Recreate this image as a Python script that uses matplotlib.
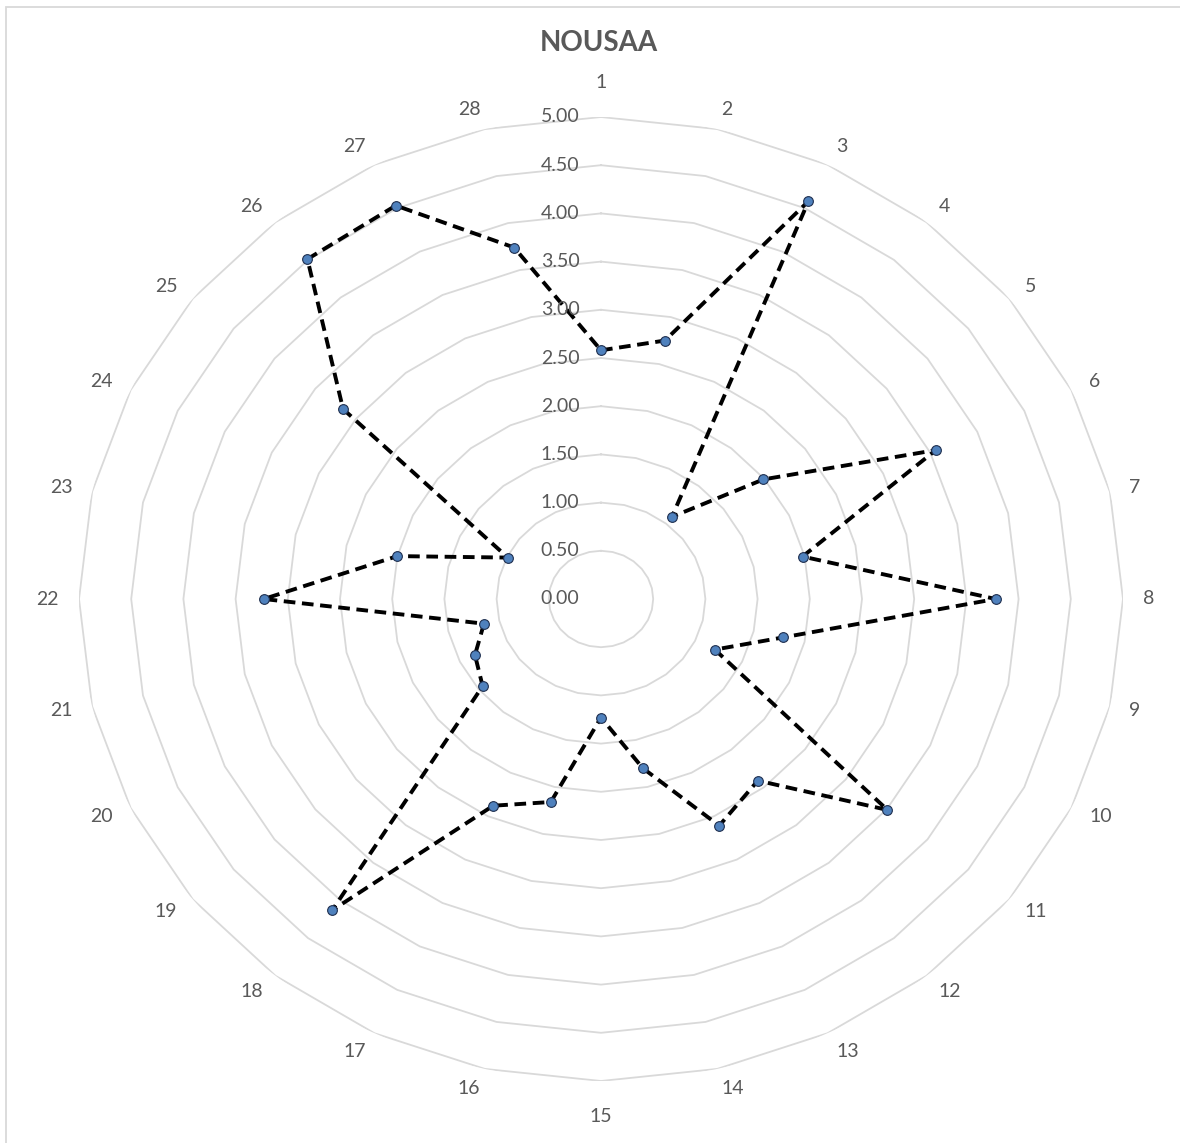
import numpy as np
import matplotlib.pyplot as plt
from matplotlib.patches import Rectangle

# 28 items, mean score per item
categories = [str(i) for i in range(1, 29)]
scores = [2.58, 2.75, 4.58, 1.09, 1.99, 3.56, 1.98, 3.78, 1.79, 1.21,
          3.51, 2.41, 2.61, 1.80, 1.23, 2.16, 2.38, 4.13, 1.45, 1.34,
          1.15, 3.23, 2.00, 0.99, 3.16, 4.51, 4.53, 3.74]
ring_levels = np.arange(0, 5.01, 0.5)

plt.rcParams['font.family'] = ['Lato', 'DejaVu Sans']
grey = '#595959'
grid_col = '#d9d9d9'

W, H = 1180, 1143
fig = plt.figure(figsize=(W / 100, H / 100), dpi=100)

# chart area border
fig.patches.append(Rectangle((5.5 / W, -0.1), 2, 1 - 7 / H + 0.1,
                             transform=fig.transFigure, fill=False,
                             ec=grid_col, lw=1.3))

ax = fig.add_axes([79 / W, 62 / H, 1044 / W, 964 / H], projection='polar')
ax.set_aspect('auto')
ax.set_theta_zero_location('N')
ax.set_theta_direction(-1)
ax.set_ylim(0, 5)
ax.grid(False)
ax.set_xticks([])
ax.set_yticks([])
ax.spines['polar'].set_visible(False)
ax.patch.set_visible(False)

n = len(categories)
angles = np.arange(n) * 2 * np.pi / n
closed = np.append(angles, angles[0])

# polygon gridlines
for lvl in ring_levels[1:]:
    ax.plot(closed, [lvl] * (n + 1), color=grid_col, lw=1.3, zorder=1)

# value axis labels
for lvl in ring_levels:
    ax.annotate(f'{lvl:.2f}', xy=(0, lvl), xytext=(-15.5, 0),
                textcoords='offset points', ha='right', va='center',
                fontsize=14, color=grey, annotation_clip=False)

# category labels: pushed out along the spoke, then sideways by half
# the text width (top/bottom ones by half the text height instead)
gap = 20
for a, lab in zip(angles, categories):
    s, c = np.sin(a), np.cos(a)
    if abs(s) < 1e-6:
        s, c = 0.0, np.sign(c)
        dx, dy = 0.0, (gap + 15) * c
    else:
        dx = gap * s + 5.6 * len(lab) * np.sign(s)
        dy = gap * c
    ax.annotate(lab, xy=(a, 5), xytext=(dx * 0.72, dy * 0.72),
                textcoords='offset points', ha='center', va='center',
                fontsize=14, color=grey, annotation_clip=False)

ax.plot(closed, scores + scores[:1], color='black', lw=2.8,
        linestyle=(0, (3.0, 1.7)), zorder=2)
ax.plot(angles, scores, 'o', ms=7, mfc='#4f81bd', mec='#1f2f4f',
        mew=0.8, zorder=3)

fig.text(599 / W, 1 - 43 / H, 'NOUSAA', ha='center', va='center',
         fontsize=20, fontweight='bold', color=grey)

fig.savefig('out.png', dpi=100)
